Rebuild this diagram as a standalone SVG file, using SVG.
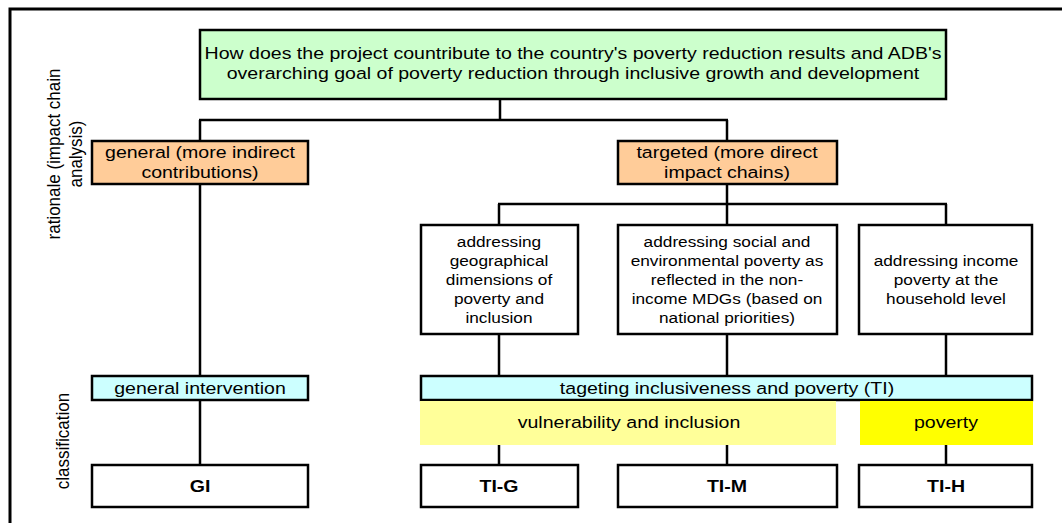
<svg xmlns="http://www.w3.org/2000/svg" width="1062" height="523" viewBox="0 0 1062 523">
<style>
.box{stroke:#000;stroke-width:2.5}
.w{fill:#fff}
.g{fill:#ccffcc}
.o{fill:#ffcc99}
.c{fill:#ccffff}
.ly{fill:#ffff99}
.y{fill:#ffff00}
text{font-family:"Liberation Sans",Arial,sans-serif;fill:#000;text-anchor:middle}
.big{font-size:17px}
.sm{font-size:15px}
.b{font-size:17px;font-weight:bold}
.conn line{stroke:#000;stroke-width:2.5}
</style>
<rect x="0" y="0" width="1062" height="523" fill="#fff"/>
<rect x="10" y="9" width="1100" height="600" fill="none" stroke="#000" stroke-width="3"/>
<g id="axis-labels">
<g transform="translate(60,154) scale(1.1,1) rotate(-90)"><text class="big" x="0" y="0">rationale (impact chain</text><text class="big" x="0" y="20">analysis)</text></g>
<g transform="translate(69,441) scale(1.1,1) rotate(-90)"><text class="big" x="0" y="0">classification</text></g>
</g>
<g class="conn">
<line x1="500" y1="99" x2="500" y2="120"/>
<line x1="199" y1="120" x2="728" y2="120"/>
<line x1="200" y1="120" x2="200" y2="141"/>
<line x1="727" y1="120" x2="727" y2="141"/>
<line x1="200" y1="184" x2="200" y2="376"/>
<line x1="200" y1="400" x2="200" y2="465"/>
<line x1="727" y1="184" x2="727" y2="204"/>
<line x1="498" y1="204" x2="947" y2="204"/>
<line x1="499" y1="204" x2="499" y2="225"/>
<line x1="727" y1="204" x2="727" y2="225"/>
<line x1="946" y1="204" x2="946" y2="225"/>
<line x1="499" y1="334" x2="499" y2="376"/>
<line x1="727" y1="334" x2="727" y2="376"/>
<line x1="946" y1="334" x2="946" y2="376"/>
<line x1="499" y1="445" x2="499" y2="465"/>
<line x1="727" y1="445" x2="727" y2="465"/>
<line x1="946" y1="445" x2="946" y2="465"/>
</g>
<g id="goal">
<rect class="box g" x="200" y="30" width="746" height="69"/>
<g transform="translate(573,0) scale(1.15,1)"><text class="big" x="0" y="59">How does the project countribute to the country's poverty reduction results and ADB's</text><text class="big" x="0" y="79">overarching goal of poverty reduction through inclusive growth and development</text></g>
</g>
<g id="general">
<rect class="box o" x="92" y="141" width="216" height="43"/>
<g transform="translate(200,0) scale(1.15,1)"><text class="big" x="0" y="158">general (more indirect</text><text class="big" x="0" y="178">contributions)</text></g>
</g>
<g id="targeted">
<rect class="box o" x="618" y="141" width="219" height="43"/>
<g transform="translate(727,0) scale(1.15,1)"><text class="big" x="0" y="158">targeted (more direct</text><text class="big" x="0" y="178">impact chains)</text></g>
</g>
<g id="geo">
<rect class="box w" x="421" y="225" width="157" height="109"/>
<g transform="translate(499,0) scale(1.15,1)"><text class="sm" x="0" y="247.5">addressing</text><text class="sm" x="0" y="266.5">geographical</text><text class="sm" x="0" y="285.5">dimensions of</text><text class="sm" x="0" y="304.5">poverty and</text><text class="sm" x="0" y="323.5">inclusion</text></g>
</g>
<g id="social">
<rect class="box w" x="618" y="225" width="219" height="109"/>
<g transform="translate(727,0) scale(1.15,1)"><text class="sm" x="0" y="247.5">addressing social and</text><text class="sm" x="0" y="266.5">environmental poverty as</text><text class="sm" x="0" y="285.5">reflected in the non-</text><text class="sm" x="0" y="304.5">income MDGs (based on</text><text class="sm" x="0" y="323.5">national priorities)</text></g>
</g>
<g id="income">
<rect class="box w" x="859" y="225" width="173" height="109"/>
<g transform="translate(946,0) scale(1.15,1)"><text class="sm" x="0" y="266.5">addressing income</text><text class="sm" x="0" y="285.5">poverty at the</text><text class="sm" x="0" y="304.5">household level</text></g>
</g>
<g id="general-intervention">
<rect class="box c" x="92" y="376" width="216" height="24"/>
<g transform="translate(200,0) scale(1.15,1)"><text class="big" x="0" y="394">general intervention</text></g>
</g>
<g id="ti">
<rect class="box c" x="421" y="376" width="611" height="24"/>
<g transform="translate(727,0) scale(1.15,1)"><text class="big" x="0" y="394">tageting inclusiveness and poverty (TI)</text></g>
</g>
<g id="vulnerability">
<rect class="ly" x="420" y="401" width="416" height="44"/>
<g transform="translate(629,0) scale(1.15,1)"><text class="big" x="0" y="428">vulnerability and inclusion</text></g>
</g>
<g id="poverty">
<rect class="y" x="860" y="401" width="173" height="44"/>
<g transform="translate(946,0) scale(1.15,1)"><text class="big" x="0" y="428">poverty</text></g>
</g>
<g id="gi">
<rect class="box w" x="92" y="465" width="216" height="42"/>
<g transform="translate(200,0) scale(1.15,1)"><text class="b" x="0" y="492">GI</text></g>
</g>
<g id="ti-g">
<rect class="box w" x="421" y="465" width="157" height="42"/>
<g transform="translate(499,0) scale(1.15,1)"><text class="b" x="0" y="492">TI-G</text></g>
</g>
<g id="ti-m">
<rect class="box w" x="618" y="465" width="219" height="42"/>
<g transform="translate(727,0) scale(1.15,1)"><text class="b" x="0" y="492">TI-M</text></g>
</g>
<g id="ti-h">
<rect class="box w" x="859" y="465" width="173" height="42"/>
<g transform="translate(946,0) scale(1.15,1)"><text class="b" x="0" y="492">TI-H</text></g>
</g>
</svg>
